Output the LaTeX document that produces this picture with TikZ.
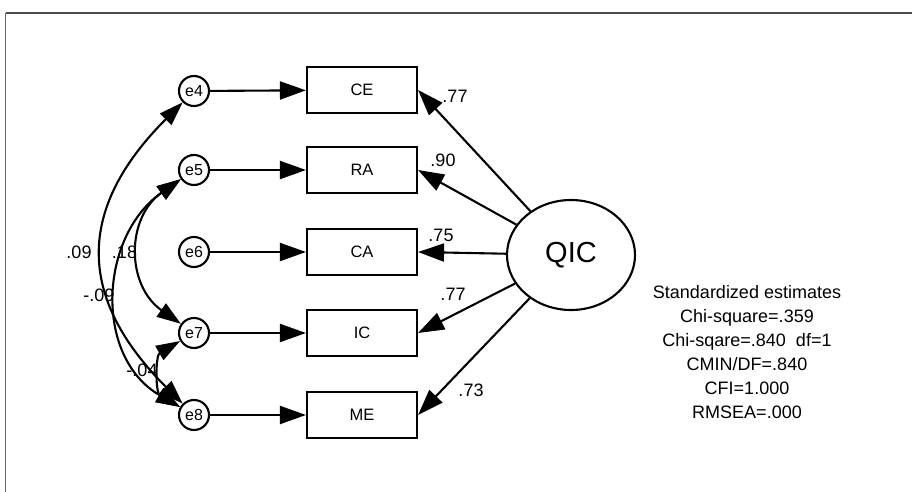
\documentclass[tikz,border=0pt]{standalone}
\usepackage{fontspec}
\setmainfont{Liberation Sans}
\usetikzlibrary{arrows.meta,shapes.geometric}
\begin{document}
\begin{tikzpicture}[x=1pt,y=1pt,
  obs/.style={draw,line width=2.1pt,minimum width=110pt,minimum height=46pt,inner sep=0pt,font=\fontsize{16.5}{19}\selectfont},
  err/.style={draw,circle,line width=2.1pt,minimum size=30pt,inner sep=0pt,font=\fontsize{16}{19}\selectfont},
  lat/.style={draw,ellipse,line width=2.1pt,minimum width=128pt,minimum height=110pt,inner sep=0pt,font=\fontsize{29}{32}\selectfont},
  reg/.style={line width=2.1pt,-{Triangle[length=26pt,width=18pt]}},
  cov/.style={line width=2.1pt,{Triangle[length=24pt,width=16pt]}-{Triangle[length=24pt,width=16pt]}},
  lbl/.style={font=\fontsize{18}{20}\selectfont,inner sep=0pt}
]
\useasboundingbox (0,0) rectangle (912,-492);
% frame
\draw[line width=2pt,black!70] (5.5,-13.5) -- (912,-13.5);
\draw[line width=1.2pt,black!60] (5.5,-13.5) -- (5.5,-492);

% observed variables
\node[obs] (ce) at (362,-90) {CE};
\node[obs] (ra) at (362,-170) {RA};
\node[obs] (ca) at (362,-252) {CA};
\node[obs] (ic) at (362,-333) {IC};
\node[obs] (me) at (362,-415) {ME};

% errors
\node[err] (e4) at (194,-91) {e4};
\node[err] (e5) at (194,-170) {e5};
\node[err] (e6) at (194,-252) {e6};
\node[err] (e7) at (194,-333) {e7};
\node[err] (e8) at (194,-415) {e8};

% latent
\node[lat] (qic) at (571,-255) {QIC};

% error paths
\draw[reg] (e4) -- (ce);
\draw[reg] (e5) -- (ra);
\draw[reg] (e6) -- (ca);
\draw[reg] (e7) -- (ic);
\draw[reg] (e8) -- (me);

% loadings
\draw[reg] (qic) -- (ce.east);
\draw[reg] (qic) -- (ra.east);
\draw[reg] (qic) -- (ca.east);
\draw[reg] (qic) -- (ic.east);
\draw[reg] (qic) -- (me.east);

\node[lbl] (l1) at (455,-96) {.77};
\node[lbl] (l2) at (443,-160) {.90};
\node[lbl] (l3) at (441,-235) {.75};
\node[lbl] (l4) at (453,-294) {.77};
\node[lbl] (l5) at (471,-390) {.73};

% covariances
\draw[cov] (e4) to[out=225,in=135,looseness=1.28] (e8);
\draw[cov] (e5) to[out=215,in=145,looseness=1.19] (e7);
\draw[cov] (e5) to[out=215,in=150,looseness=1.12] (e8);
\draw[cov] (e7) to[out=210,in=150,looseness=1.11] (e8);

\node[lbl] (c1) at (79,-252) {.09};
\node[lbl] (c2) at (124.5,-252) {.18};
\node[lbl] (c3) at (99,-295) {-.09};
\node[lbl] (c4) at (142,-370) {-.04};

% fit statistics
\node[align=center,font=\fontsize{18}{24}\selectfont,inner sep=0pt] (stats) at (747,-352)
  {Standardized estimates\\Chi-square=.359\\Chi-sqare=.840\ \ df=1\\CMIN/DF=.840\\CFI=1.000\\RMSEA=.000};
\end{tikzpicture}
\end{document}
